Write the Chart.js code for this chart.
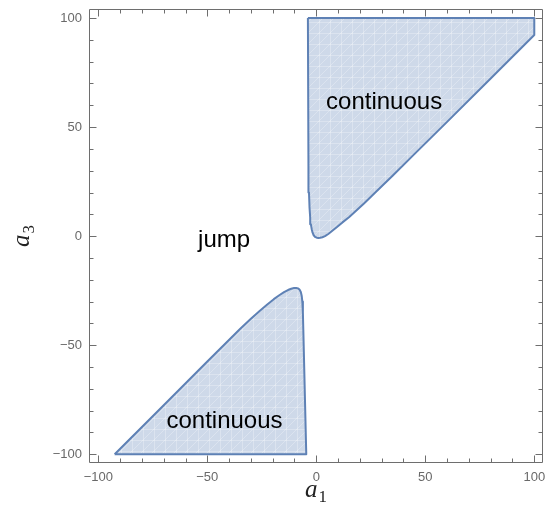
<!DOCTYPE html>
<html>
<head>
<meta charset="utf-8">
<script src="https://cdn.jsdelivr.net/npm/chart.js@4/dist/chart.umd.min.js"></script>
<style>
  html, body { margin: 0; padding: 0; background: #fff; }
  #wrap { width: 557px; height: 532px; position: relative; }
</style>
</head>
<body>
<div id="wrap"><canvas id="c" width="557" height="532"></canvas></div>
<script>
// ---- data ----
const upperX = [-3.85, 100, 100, 80, 60, 45, 35, 28, 22, 18, 15, 12, 9.5, 7.5, 5.5, 4, 2.8, 1.8, 1.0, 0.2, -0.6, -1.2, -1.7, -2.1, -2.5, -2.8, -3.1, -3.35, -3.6, -3.85];
const upperY = [100, 100, 92.2, 72.3, 52.4, 37.6, 27.7, 20.9, 15.1, 11.4, 8.7, 6.3, 4.2, 2.6, 1.0, 0.0, -0.5, -0.75, -0.8, -0.7, -0.3, 0.4, 1.6, 3.2, 5.5, 8.5, 13, 20, 32, 100];
const lowerX = [-92.5, -70, -50, -35, -30, -26, -22.5, -19.5, -17, -14.8, -13, -11.5, -10.2, -9.2, -8.4, -7.7, -7.1, -6.7, -6.4, -6.15, -5.95, -4.6, -92.5];
const lowerY = [-100, -77.5, -57.5, -42.6, -37.9, -34.3, -31.3, -28.9, -27.1, -25.7, -24.7, -24.1, -23.8, -23.75, -23.95, -24.5, -25.6, -27.3, -30, -35, -43, -100, -100];
const tickValues = [-100, -50, 0, 50, 100];
const regionLabels = ["jump", "continuous", "continuous"];
const regionLabelX = [-42.3, 31.1, -42.1];
const regionLabelY = [-5.0, 58.3, -87.9];
const xTitle = ["a", "1"];
const yTitle = ["a", "3"];

const toPts = (xs, ys) => xs.map((x, i) => ({ x: x, y: ys[i] }));

// fill pattern (light blue with faint white mesh)
function makePattern() {
  const s = 11;
  const pc = document.createElement('canvas');
  pc.width = s; pc.height = s;
  const p = pc.getContext('2d');
  p.fillStyle = 'rgb(206,217,233)';
  p.fillRect(0, 0, s, s);
  p.strokeStyle = 'rgba(255,255,255,0.28)';
  p.lineWidth = 1;
  p.beginPath();
  p.moveTo(0.5, 0); p.lineTo(0.5, s);
  p.moveTo(0, 0.5); p.lineTo(s, 0.5);
  p.moveTo(0, s); p.lineTo(s, 0);
  p.stroke();
  return p.createPattern(pc, 'repeat');
}

const canvas = document.getElementById('c');
const ctx = canvas.getContext('2d');
const pattern = makePattern();
const lineCol = 'rgb(94,129,181)';
const frameCol = 'rgb(110,110,110)';
const labelCol = 'rgb(105,105,105)';

const fmt = v => (v < 0 ? '\u2212' + Math.abs(v) : String(v));

const framePlugin = {
  id: 'framePlugin',
  afterDraw(chart) {
    const c = chart.ctx;
    const a = chart.chartArea;
    const xs = chart.scales.x, ys = chart.scales.y;
    c.save();
    c.strokeStyle = frameCol;
    c.lineWidth = 1;
    const L = Math.round(a.left) + 0.5, R = Math.round(a.right) - 0.5;
    const T = Math.round(a.top) + 0.5, B = Math.round(a.bottom) - 0.5;
    c.beginPath();
    c.rect(L, T, R - L, B - T);
    c.stroke();
    c.beginPath();
    for (let v = -100; v <= 100; v += 10) {
      const len = (v % 50 === 0) ? 7 : 4;
      const px = Math.round(xs.getPixelForValue(v)) + 0.5;
      c.moveTo(px, B); c.lineTo(px, B - len);
      c.moveTo(px, T); c.lineTo(px, T + len);
      const py = Math.round(ys.getPixelForValue(v)) + 0.5;
      c.moveTo(L, py); c.lineTo(L + len, py);
      c.moveTo(R, py); c.lineTo(R - len, py);
    }
    c.stroke();

    // region labels
    c.fillStyle = '#000';
    c.font = '24px "Liberation Sans", Arial, sans-serif';
    c.textAlign = 'center';
    c.textBaseline = 'alphabetic';
    regionLabels.forEach((t, i) => {
      c.fillText(t, xs.getPixelForValue(regionLabelX[i]), ys.getPixelForValue(regionLabelY[i]));
    });

    // axis titles
    const drawTitle = (parts) => {
      c.font = 'italic 25px "Liberation Serif", "Times New Roman", serif';
      const w1 = c.measureText(parts[0]).width;
      c.font = '17px "Liberation Serif", "Times New Roman", serif';
      const w2 = c.measureText(parts[1]).width;
      const tot = w1 + w2 + 1;
      c.textAlign = 'left';
      c.font = 'italic 25px "Liberation Serif", "Times New Roman", serif';
      c.fillText(parts[0], -tot / 2, 0);
      c.font = '17px "Liberation Serif", "Times New Roman", serif';
      c.fillText(parts[1], -tot / 2 + w1 + 1, 5);
    };
    c.fillStyle = '#222';
    c.save();
    c.translate((a.left + a.right) / 2, 497);
    drawTitle(xTitle);
    c.restore();
    c.save();
    c.translate(29, (a.top + a.bottom) / 2);
    c.rotate(-Math.PI / 2);
    drawTitle(yTitle);
    c.restore();
    c.restore();
  }
};

const tickFont = { family: '"Liberation Sans", Arial, sans-serif', size: 13 };

new Chart(ctx, {
  type: 'scatter',
  data: {
    datasets: [
      {
        data: toPts(upperX, upperY),
        showLine: true,
        borderColor: lineCol,
        borderWidth: 2,
        backgroundColor: pattern,
        fill: 'shape',
        pointRadius: 0,
        tension: 0,
        borderJoinStyle: 'round'
      },
      {
        data: toPts(lowerX, lowerY),
        showLine: true,
        borderColor: lineCol,
        borderWidth: 2,
        backgroundColor: pattern,
        fill: 'shape',
        pointRadius: 0,
        tension: 0,
        borderJoinStyle: 'round'
      }
    ]
  },
  options: {
    responsive: false,
    animation: false,
    events: [],
    layout: { padding: { top: 9, right: 14, left: 0, bottom: 0 } },
    plugins: { legend: { display: false }, tooltip: { enabled: false } },
    scales: {
      x: {
        type: 'linear',
        min: -104.27,
        max: 104.0,
        grid: { display: false, drawTicks: false },
        border: { display: false },
        afterFit: s => { s.height = 69; s.paddingLeft = 0; s.paddingRight = 0; },
        afterBuildTicks: s => { s.ticks = tickValues.map(v => ({ value: v })); },
        ticks: {
          callback: v => fmt(v),
          color: labelCol,
          font: tickFont,
          padding: 7,
          maxRotation: 0,
          autoSkip: false
        }
      },
      y: {
        type: 'linear',
        min: -104.0,
        max: 104.13,
        grid: { display: false, drawTicks: false },
        border: { display: false },
        afterFit: s => { s.width = 89; s.paddingTop = 0; s.paddingBottom = 0; },
        afterBuildTicks: s => { s.ticks = tickValues.map(v => ({ value: v })); },
        ticks: {
          callback: v => fmt(v),
          color: labelCol,
          font: tickFont,
          padding: 7,
          autoSkip: false
        }
      }
    }
  },
  plugins: [framePlugin]
});
</script>
</body>
</html>
